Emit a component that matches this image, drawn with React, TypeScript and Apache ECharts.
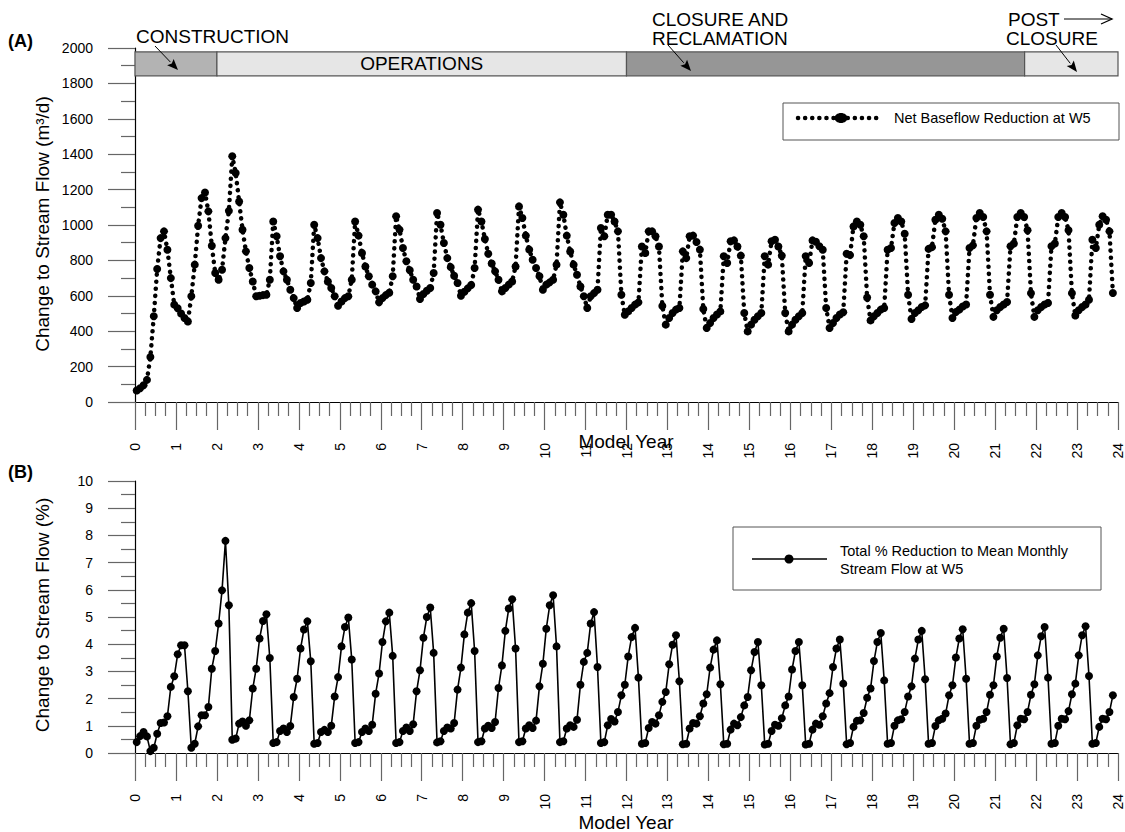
import React, { useEffect, useRef } from 'react';
import * as echarts from 'echarts';

// Panel A: net baseflow reduction at W5 (m3/d), one row per model year, monthly values
const netBaseflow: number[][] = [
  [65, 78, 95, 125, 254, 484, 751, 926, 964, 860, 700, 550],
  [530, 500, 475, 455, 597, 776, 996, 1152, 1184, 1077, 883, 729],
  [691, 747, 926, 1080, 1388, 1294, 1133, 973, 851, 757, 681, 597],
  [600, 604, 606, 691, 1020, 936, 823, 738, 691, 634, 587, 531],
  [559, 568, 578, 672, 1001, 926, 813, 738, 681, 644, 597, 544],
  [568, 587, 597, 691, 1020, 940, 842, 766, 710, 663, 625, 563],
  [587, 604, 617, 710, 1049, 974, 870, 795, 744, 691, 653, 582],
  [610, 629, 644, 729, 1068, 1001, 898, 813, 762, 713, 672, 600],
  [623, 642, 661, 757, 1087, 1020, 921, 838, 782, 738, 691, 625],
  [644, 663, 681, 766, 1105, 1040, 940, 861, 804, 757, 710, 634],
  [663, 676, 691, 776, 1128, 1058, 940, 850, 776, 719, 653, 597],
  [531, 597, 615, 634, 983, 936, 1058, 1058, 1020, 964, 606, 493],
  [512, 531, 550, 563, 879, 842, 964, 964, 936, 879, 542, 437],
  [475, 503, 522, 531, 851, 813, 936, 940, 904, 861, 525, 418],
  [446, 475, 494, 512, 823, 785, 908, 913, 879, 827, 503, 399],
  [437, 465, 484, 503, 823, 776, 908, 917, 879, 827, 503, 399],
  [437, 465, 484, 503, 823, 785, 913, 905, 880, 860, 531, 418],
  [446, 475, 494, 507, 838, 830, 992, 1020, 1001, 936, 590, 461],
  [484, 503, 522, 531, 860, 870, 1011, 1040, 1020, 951, 606, 469],
  [503, 518, 537, 546, 865, 875, 1030, 1058, 1035, 964, 606, 475],
  [508, 522, 540, 551, 870, 885, 1040, 1068, 1045, 964, 606, 481],
  [518, 537, 551, 565, 880, 895, 1045, 1068, 1045, 970, 614, 481],
  [518, 537, 551, 559, 880, 895, 1045, 1068, 1045, 970, 614, 489],
  [518, 537, 551, 578, 917, 870, 1001, 1049, 1030, 964, 616],
];

// Panel B: total % reduction to mean monthly stream flow at W5, one row per model year
const pctReduction: number[][] = [
  [0.40, 0.62, 0.77, 0.61, 0.07, 0.19, 0.71, 1.10, 1.12, 1.35, 2.43, 2.82],
  [3.63, 3.96, 3.96, 2.27, 0.19, 0.34, 0.98, 1.39, 1.39, 1.69, 3.10, 3.75],
  [4.76, 5.98, 7.80, 5.43, 0.49, 0.53, 1.08, 1.16, 1.00, 1.20, 2.37, 3.10],
  [4.21, 4.85, 5.10, 3.49, 0.37, 0.40, 0.81, 0.90, 0.77, 0.99, 2.06, 2.73],
  [3.84, 4.54, 4.84, 3.37, 0.34, 0.37, 0.77, 0.85, 0.77, 1.00, 2.08, 2.79],
  [3.92, 4.63, 4.98, 3.44, 0.37, 0.40, 0.77, 0.90, 0.81, 1.04, 2.18, 2.92],
  [4.08, 4.84, 5.16, 3.57, 0.37, 0.40, 0.81, 0.94, 0.81, 1.06, 2.27, 3.04],
  [4.24, 5.00, 5.35, 3.68, 0.39, 0.43, 0.81, 0.94, 0.90, 1.10, 2.33, 3.14],
  [4.36, 5.16, 5.51, 3.75, 0.40, 0.43, 0.90, 1.00, 0.92, 1.14, 2.39, 3.22],
  [4.49, 5.31, 5.65, 3.84, 0.40, 0.43, 0.90, 1.02, 0.92, 1.19, 2.45, 3.28],
  [4.57, 5.43, 5.80, 3.92, 0.40, 0.43, 0.90, 1.02, 0.96, 1.22, 2.51, 3.35],
  [3.68, 4.76, 5.18, 3.16, 0.37, 0.40, 1.02, 1.25, 1.16, 1.51, 2.12, 2.51],
  [3.55, 4.26, 4.60, 2.77, 0.34, 0.37, 0.92, 1.14, 1.08, 1.39, 1.88, 2.24],
  [3.26, 3.98, 4.33, 2.64, 0.32, 0.34, 0.90, 1.10, 1.08, 1.35, 1.82, 2.16],
  [3.14, 3.80, 4.14, 2.53, 0.32, 0.34, 0.86, 1.08, 1.02, 1.32, 1.75, 2.06],
  [3.04, 3.71, 4.08, 2.49, 0.31, 0.34, 0.81, 1.04, 1.00, 1.28, 1.75, 2.08],
  [3.07, 3.75, 4.08, 2.49, 0.31, 0.34, 0.86, 1.08, 1.04, 1.35, 1.82, 2.20],
  [3.16, 3.84, 4.17, 2.55, 0.32, 0.37, 0.96, 1.18, 1.20, 1.47, 2.03, 2.37],
  [3.38, 4.08, 4.41, 2.67, 0.34, 0.37, 1.00, 1.20, 1.24, 1.51, 2.08, 2.45],
  [3.47, 4.17, 4.49, 2.71, 0.34, 0.37, 0.99, 1.20, 1.26, 1.45, 2.12, 2.49],
  [3.51, 4.21, 4.55, 2.73, 0.34, 0.37, 1.00, 1.22, 1.26, 1.51, 2.14, 2.49],
  [3.55, 4.24, 4.57, 2.76, 0.32, 0.37, 1.02, 1.26, 1.24, 1.51, 2.14, 2.53],
  [3.59, 4.29, 4.63, 2.77, 0.34, 0.37, 1.00, 1.26, 1.24, 1.54, 2.16, 2.55],
  [3.59, 4.33, 4.66, 2.83, 0.34, 0.37, 0.96, 1.26, 1.24, 1.51, 2.12],
];

// Project phases (model years)
const phaseNames = ['CONSTRUCTION', 'OPERATIONS', 'CLOSURE AND RECLAMATION', 'POST CLOSURE'];
const phaseStart = [0, 2, 12, 21.72];
const phaseEnd = [2, 12, 21.72, 24];
const phaseFill = ['#b3b3b3', '#e6e6e6', '#969696', '#e6e6e6'];
const phaseBand = [1843, 1978];

const yearTicks = [0, 24, 1];
const flowTicks = [0, 2000, 200];
const pctTicks = [0, 10, 1];

const FONT = 'Liberation Sans, Arial, Helvetica, sans-serif';

function toPoints(rows: number[][]): [number, number][] {
  const out: [number, number][] = [];
  rows.forEach((row, year) => {
    row.forEach((v, m) => out.push([year + (m + 0.5) / 12, v]));
  });
  return out;
}

function arrow(x1: number, y1: number, x2: number, y2: number): any[] {
  const ang = Math.atan2(y2 - y1, x2 - x1);
  const L = 11;
  const W = 4.5;
  const bx = x2 - L * Math.cos(ang);
  const by = y2 - L * Math.sin(ang);
  const px = -Math.sin(ang) * W;
  const py = Math.cos(ang) * W;
  return [
    { type: 'line', silent: true, z: 100, shape: { x1, y1, x2: bx, y2: by }, style: { stroke: '#000', lineWidth: 1 } },
    {
      type: 'polygon', silent: true, z: 100,
      shape: { points: [[x2, y2], [bx + px, by + py], [bx + 2 * Math.cos(ang), by + 2 * Math.sin(ang)], [bx - px, by - py]] },
      style: { fill: '#000' },
    },
  ];
}

function txt(text: string, x: number, y: number, size: number, extra: any = {}): any {
  return {
    type: 'text', silent: true, z: 100, x, y,
    style: {
      text, fontSize: size, fontFamily: FONT, fill: '#000',
      textAlign: 'left', textVerticalAlign: 'middle', ...extra,
    },
  };
}

function xAxis(gi: number): any {
  return {
    type: 'value', gridIndex: gi, min: yearTicks[0], max: yearTicks[1], interval: yearTicks[2],
    axisLine: { show: true, onZero: false, lineStyle: { color: '#000', width: 1.2 } },
    axisTick: { show: true, length: 28, lineStyle: { color: '#666', width: 1.2 } },
    minorTick: { show: true, splitNumber: 4, length: 14, lineStyle: { color: '#666', width: 1.2 } },
    axisLabel: { rotate: 90, margin: 41, fontSize: 14, color: '#000', fontFamily: FONT, formatter: (v: number) => String(v) },
    splitLine: { show: false },
    minorSplitLine: { show: false },
  };
}

function yAxis(gi: number, t: number[]): any {
  return {
    type: 'value', gridIndex: gi, min: t[0], max: t[1], interval: t[2],
    axisLine: { show: true, onZero: false, lineStyle: { color: '#000', width: 1.2 } },
    axisTick: { show: true, length: 27, lineStyle: { color: '#666', width: 1.2 } },
    minorTick: { show: true, splitNumber: 2, length: 14, lineStyle: { color: '#666', width: 1.2 } },
    axisLabel: { margin: 42, fontSize: 14, color: '#000', fontFamily: FONT, formatter: (v: number) => String(v) },
    splitLine: { show: false },
    minorSplitLine: { show: false },
  };
}

export default function App() {
  const ref = useRef<HTMLDivElement>(null);
  useEffect(() => {
    document.body.style.margin = '0';
    const chart = echarts.init(ref.current!, null, { renderer: 'svg' });

    const markAreaData = phaseNames.map((name, i) => [
      {
        name, coord: [phaseStart[i], phaseBand[0]],
        itemStyle: { color: phaseFill[i], borderColor: '#555', borderWidth: 1.2 },
        label: i === 1
          ? { show: true, position: 'inside', fontSize: 19, color: '#000', fontFamily: FONT }
          : { show: false },
      },
      { coord: [phaseEnd[i], phaseBand[1]] },
    ]);

    const yTitleA = txt('Change to Stream Flow (m\u00b3/d)', 42, 224, 19, { textAlign: 'center' });
    yTitleA.rotation = Math.PI / 2;
    const yTitleB = txt('Change to Stream Flow (%)', 42, 615, 19, { textAlign: 'center' });
    yTitleB.rotation = Math.PI / 2;

    const graphics: any[] = [
      txt('(A)', 8, 41, 18, { fontWeight: 'bold' }),
      txt('(B)', 8, 472, 18, { fontWeight: 'bold' }),
      txt('CONSTRUCTION', 136, 36, 19),
      ...arrow(155, 46, 178, 70),
      txt('CLOSURE AND', 652, 19, 19),
      txt('RECLAMATION', 652, 38, 19),
      ...arrow(668, 45, 691, 71),
      txt('POST', 1008, 19, 19),
      { type: 'line', silent: true, z: 100, shape: { x1: 1064, y1: 19, x2: 1112, y2: 19 }, style: { stroke: '#000', lineWidth: 1 } },
      { type: 'polyline', silent: true, z: 100, shape: { points: [[1101, 14], [1112, 19], [1101, 24]] }, style: { stroke: '#000', lineWidth: 1.3, fill: null } },
      txt('CLOSURE', 1006, 38, 19),
      ...arrow(1056, 45, 1077, 72),
      // axis titles
      yTitleA,
      yTitleB,
      txt('Model Year', 626, 441, 19, { textAlign: 'center' }),
      txt('Model Year', 626, 822, 19, { textAlign: 'center' }),
      // legend A
      { type: 'rect', silent: true, z: 100, shape: { x: 783, y: 103, width: 336, height: 37 }, style: { fill: '#fff', stroke: '#555', lineWidth: 1 } },
      { type: 'line', silent: true, z: 101, shape: { x1: 798, y1: 118, x2: 879, y2: 118 }, style: { stroke: '#000', lineWidth: 4.5, lineDash: [0.1, 7], lineCap: 'round' } },
      { type: 'ellipse', silent: true, z: 101, shape: { cx: 841, cy: 118, rx: 6.5, ry: 5 }, style: { fill: '#000' } },
      { ...txt('Net Baseflow Reduction at W5', 894, 118, 14.5), z: 101 },
      // legend B
      { type: 'rect', silent: true, z: 100, shape: { x: 733, y: 527, width: 368, height: 63 }, style: { fill: '#fff', stroke: '#555', lineWidth: 1 } },
      { type: 'line', silent: true, z: 101, shape: { x1: 752, y1: 559, x2: 827, y2: 559 }, style: { stroke: '#000', lineWidth: 1.6 } },
      { type: 'circle', silent: true, z: 101, shape: { cx: 789, cy: 559, r: 4.5 }, style: { fill: '#000' } },
      { ...txt('Total % Reduction to Mean Monthly', 840, 551, 14.5), z: 101 },
      { ...txt('Stream Flow at W5', 840, 569, 14.5), z: 101 },
    ];

    const option: any = {
      animation: false,
      textStyle: { fontFamily: FONT },
      grid: [
        { left: 135, top: 48, width: 983, height: 354 },
        { left: 135, top: 481, width: 983, height: 272 },
      ],
      xAxis: [xAxis(0), xAxis(1)],
      yAxis: [yAxis(0, flowTicks), yAxis(1, pctTicks)],
      series: [
        {
          name: 'Net Baseflow Reduction at W5',
          type: 'line', xAxisIndex: 0, yAxisIndex: 0,
          data: toPoints(netBaseflow),
          symbol: 'circle', symbolSize: 8,
          itemStyle: { color: '#000' },
          lineStyle: { color: '#000', width: 4.5, type: [0.1, 7], cap: 'round' },
          markArea: { silent: true, data: markAreaData },
          z: 3,
        },
        {
          name: 'Total % Reduction to Mean Monthly Stream Flow at W5',
          type: 'line', xAxisIndex: 1, yAxisIndex: 1,
          data: toPoints(pctReduction),
          symbol: 'circle', symbolSize: 8,
          itemStyle: { color: '#000' },
          lineStyle: { color: '#000', width: 1.6 },
          z: 3,
        },
      ],
      graphic: { elements: graphics },
    };

    chart.setOption(option);
    return () => chart.dispose();
  }, []);
  return <div ref={ref} style={{ position: 'absolute', left: 0, top: 0, width: 1125, height: 832 }} />;
}
